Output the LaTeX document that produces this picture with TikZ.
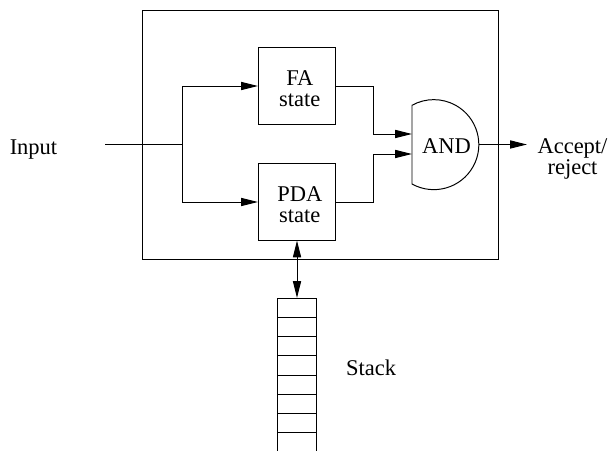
\documentclass[tikz,border=0pt]{standalone}
\usepackage{fontspec}
\setmainfont{Liberation Serif}
\usetikzlibrary{positioning, arrows.meta}
\begin{document}
\begin{tikzpicture}[
      x=0.025cm, y=-0.025cm,
      every node/.style={font=\fontsize{16}{15}\selectfont},
      sbox/.style={rectangle, draw, line width=0.7pt, minimum width=1.93cm,
                   minimum height=1.9cm, align=center, text height=30pt},
      lbl/.style={align=center, inner sep=0pt},
      wire/.style={line width=0.7pt},
      arr/.style={wire, -{Triangle[length=12pt, width=5.8pt]}},
      darr/.style={wire, {Triangle[length=12pt, width=5.8pt]}-{Triangle[length=12pt, width=5.8pt]}}
    ]
    \useasboundingbox (0,0) rectangle (610,451);

    \node[rectangle, draw, line width=0.7pt, minimum width=8.875cm, minimum height=6.225cm,
          inner sep=0pt] (machine) at (320.5,135) {};

    \node[sbox] (fa)  at (297,86)  {\hspace*{4pt}FA\\\hspace*{4pt}state};
    \node[sbox] (pda) at (297,202) {\hspace*{4pt}PDA\\\hspace*{4pt}state};

    % AND gate: flat left side, round right side
    \coordinate (andtop) at (412,105);
    \coordinate (andbot) at (412,184);
    \draw[wire] (andtop) -- (andbot) arc[start angle=119, end angle=-119, radius=45];
    \node[lbl] (andlbl) at (446.5,146.5) {AND};
    \coordinate (andin1) at (412,134);
    \coordinate (andin2) at (412,154);
    \coordinate (andout) at (479,144.5);

    \node[lbl] (input)  at (33.5,150) {Input};
    \node[lbl] (accept) at (572.5,159) {Accept/\\reject};
    \node[lbl] (stacklbl) at (371,368) {Stack};

    \coordinate (instart) at (105,144);
    \coordinate (split) at (182,144);
    \coordinate (outend) at (527,144.5);

    \draw[wire] (instart) -- (split);
    \draw[arr] (split) |- (fa.west);
    \draw[arr] (split) |- (pda.west);
    \draw[arr] (fa.east) -- (373,86) |- (andin1);
    \draw[arr] (pda.east) -- (373,202) |- (andin2);
    \draw[arr] (andout) -- (outend);

    % stack, open at the bottom
    \coordinate (stacktop) at (297,298);
    \draw[wire] (277.5,451) -- (277.5,298) -- (316,298) -- (316,451);
    \foreach \y in {317,336,355.5,375,394,413,432}{
      \draw[wire] (277.5,\y) -- (316,\y);
    }
    \draw[darr] (pda.south -| stacktop) -- (stacktop);
  \end{tikzpicture}
\end{document}
